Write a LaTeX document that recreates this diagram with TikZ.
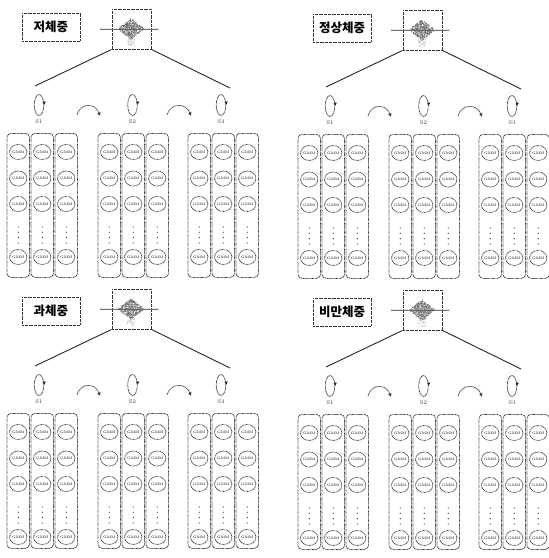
\documentclass[tikz,border=0pt]{standalone}
\usepackage{fontspec}
\newfontfamily\krfont{Noto Sans CJK KR}
\usetikzlibrary{shapes.geometric,arrows.meta}

\tikzset{
  dotline/.style={dash pattern=on 0.7pt off 0.6pt, line width=0.9pt, draw=black!80},
  catbox/.style={dotline, minimum width=58pt, minimum height=28pt, inner sep=0pt,
    font=\krfont\bfseries\fontsize{12.5}{12.5}\selectfont},
  wavebox/.style={dotline, minimum width=39pt, minimum height=40pt, inner sep=0pt},
  link/.style={line width=0.9pt, draw=black!85},
  stateloop/.style={ellipse, dotline, line width=0.8pt, minimum width=9.5pt, minimum height=21pt, inner sep=0pt},
  statelabel/.style={font=\fontsize{5.5}{5.5}\selectfont, text=black!80, inner sep=0pt},
  trans/.style={dotline, line width=0.8pt, -{Latex[length=3.5pt,width=3.5pt]}},
  looptip/.style={-{Latex[length=3.5pt,width=3.5pt]}, draw=black!85, line width=0.5pt},
  gmmcol/.style={dotline, line width=0.8pt, rounded corners=4pt, minimum width=22.5pt, inner sep=0pt},
  gmm/.style={ellipse, dotline, line width=0.75pt, minimum width=13pt, minimum height=15pt, inner sep=0pt,
    font=\fontsize{3.6}{3.6}\selectfont, text=black},
  gap/.style={circle, fill=black!75, minimum size=1.3pt, inner sep=0pt},
}

% one weight class: label, signal, three HMM states and their GMM columns
% #1 name prefix, #2/#3 shift, #4 label, #5 column height, #6 label offset, #7 seed
\newcommand\hmmpanel[7]{%
\begin{scope}[shift={(#2,#3)}]
  \node[catbox] (#1-lab) at (51,27+#6) {#4};
  \node[wavebox] (#1-wave) at (131.5,29) {};
  % signal trace
  \draw[black!55, line width=0.5pt] (100,29) -- (158,29);
  \foreach \t in {101,104,...,158} \fill[black!60] (\t,29) circle (0.55);
  \pgfmathsetseed{#7}
  \foreach \i in {1,...,520}{
    \pgfmathsetmacro\xx{131+13*(rnd+rnd-1)}
    \pgfmathsetmacro\env{max(0,1-abs(\xx-131)/13.5)}
    \pgfmathsetmacro\yy{29+10.5*\env*(2*rnd-1)}
    \fill[black!62] (\xx,\yy) circle (0.42);
  }
  \foreach \i in {1,...,40}{
    \pgfmathsetmacro\xx{131+4*(2*rnd-1)}
    \pgfmathsetmacro\yy{38+8*rnd}
    \fill[black!40] (\xx,\yy) circle (0.35);
  }
  % state chain
  \coordinate (#1-a1) at (35,86);
  \coordinate (#1-a3) at (230,88);
  \draw[link] (#1-wave.south west) -- (#1-a1);
  \draw[link] (#1-wave.south east) -- (#1-a3);
  \foreach \k/\sx in {1/39,2/132.5,3/221}{
    \node[stateloop] (#1-s\k) at (\sx,105) {};
    \draw[looptip] (#1-s\k.east) ++(0,-1.5) -- (#1-s\k.east);
    \node[statelabel] (#1-l\k) at (\sx,122) {S\k};
  }
  \coordinate (#1-t1s) at (77,115);
  \coordinate (#1-t1e) at (100,116);
  \coordinate (#1-t2s) at (167,115);
  \coordinate (#1-t2e) at (191,116);
  \draw[trans] (#1-t1s) .. controls (80,103) and (95,102) .. (#1-t1e);
  \draw[trans] (#1-t2s) .. controls (170,103) and (186,102) .. (#1-t2e);
  % mixture columns
  \foreach \g/\gx in {1/7,2/98,3/188}{
    \foreach \c in {1,2,3}{
      \pgfmathsetmacro\cx{\gx+(\c-1)*24+11.25}
      \node[gmmcol, minimum height=#5pt, anchor=north] (#1-g\g-c\c) at (\cx,133) {};
      \foreach \r/\ry in {1/19,2/45.5,3/71,4/124}{
        \node[gmm] (#1-g\g-c\c-m\r) at (\cx,133+\ry) {GMM};
      }
      \foreach \d in {0,1,2,3}{
        \node[gap] (#1-g\g-c\c-d\d) at (\cx,227+\d*5.3) {};
      }
    }
  }
\end{scope}}

\begin{document}
\begin{tikzpicture}[x=1pt,y=-1pt]
  \useasboundingbox (0,0) rectangle (549,558);
  \hmmpanel{pa}{0}{0}{저체중}{144}{0}{11}
  \hmmpanel{pb}{291}{1}{정상체중}{144}{0}{23}
  \hmmpanel{pc}{0}{280}{과체중}{135}{4}{37}
  \hmmpanel{pd}{291}{281}{비만체중}{135}{4}{51}
\end{tikzpicture}
\end{document}
